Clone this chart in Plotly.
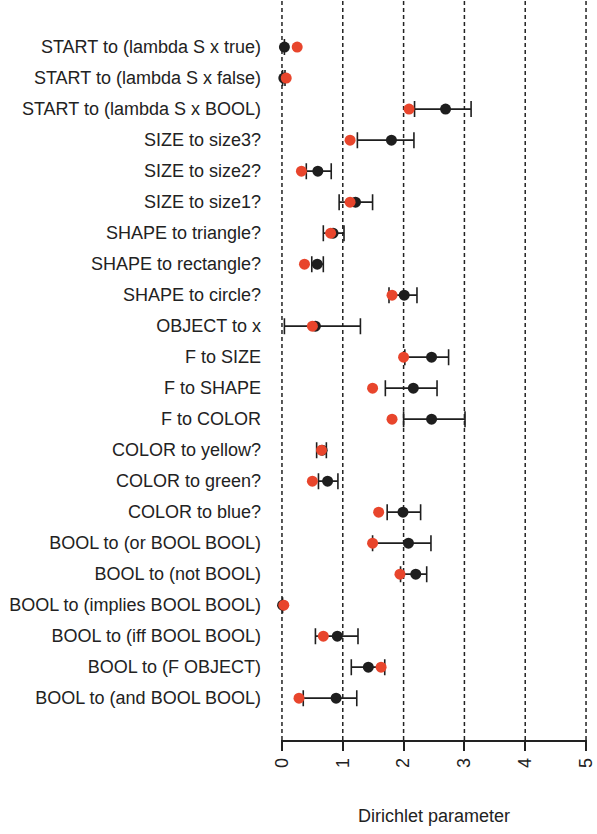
import plotly.graph_objects as go

labels = [
    "START to (lambda S x true)",
    "START to (lambda S x false)",
    "START to (lambda S x BOOL)",
    "SIZE to size3?",
    "SIZE to size2?",
    "SIZE to size1?",
    "SHAPE to triangle?",
    "SHAPE to rectangle?",
    "SHAPE to circle?",
    "OBJECT to x",
    "F to SIZE",
    "F to SHAPE",
    "F to COLOR",
    "COLOR to yellow?",
    "COLOR to green?",
    "COLOR to blue?",
    "BOOL to (or BOOL BOOL)",
    "BOOL to (not BOOL)",
    "BOOL to (implies BOOL BOOL)",
    "BOOL to (iff BOOL BOOL)",
    "BOOL to (F OBJECT)",
    "BOOL to (and BOOL BOOL)",
]
black_mean = [0.04, 0.03, 2.69, 1.80, 0.59, 1.21, 0.84, 0.58, 2.01, 0.55, 2.46, 2.16, 2.46, 0.66, 0.75, 1.99, 2.08, 2.20, 0.01, 0.91, 1.42, 0.89]
black_lo   = [0.04, 0.01, 2.18, 1.24, 0.40, 0.94, 0.68, 0.49, 1.76, 0.04, 2.02, 1.70, 2.00, 0.57, 0.60, 1.73, 1.49, 1.95, 0.01, 0.55, 1.14, 0.35]
black_hi   = [0.04, 0.05, 3.11, 2.17, 0.81, 1.49, 1.02, 0.68, 2.22, 1.29, 2.74, 2.55, 3.01, 0.73, 0.92, 2.28, 2.45, 2.38, 0.01, 1.25, 1.69, 1.23]
red_vals   = [0.25, 0.07, 2.09, 1.12, 0.32, 1.12, 0.80, 0.37, 1.81, 0.50, 2.00, 1.49, 1.81, 0.65, 0.50, 1.59, 1.49, 1.94, 0.03, 0.68, 1.63, 0.28]
x_ticks = [0, 1, 2, 3, 4, 5]

ypos = list(range(len(labels)))
err_plus = [h - m for h, m in zip(black_hi, black_mean)]
err_minus = [m - l for m, l in zip(black_mean, black_lo)]

fig = go.Figure()
fig.add_trace(go.Scatter(
    x=black_mean, y=ypos, mode="markers",
    marker=dict(color="#1e1e1e", size=11),
    error_x=dict(type="data", symmetric=False, array=err_plus, arrayminus=err_minus,
                 color="#1e1e1e", thickness=1.6, width=8),
    cliponaxis=False, showlegend=False,
))
fig.add_trace(go.Scatter(
    x=red_vals, y=ypos, mode="markers",
    marker=dict(color="#e8452c", size=11),
    cliponaxis=False, showlegend=False,
))

# dashed reference lines at each tick (including the range ends)
for t in x_ticks:
    fig.add_shape(type="line", xref="x", yref="paper", x0=t, x1=t, y0=0, y1=1,
                  line=dict(color="#222", width=1.5, dash="4px,3px"), layer="below")

fig.update_layout(
    width=597, height=834,
    margin=dict(l=281, r=10, t=0, b=94),
    plot_bgcolor="white", paper_bgcolor="white",
    font=dict(family="Liberation Sans, Arial, sans-serif", size=18, color="#222"),
)
fig.update_xaxes(
    range=[-0.016, 5.016], tickvals=x_ticks, ticktext=[str(t) for t in x_ticks],
    tickangle=-90, ticks="outside", ticklen=9, tickwidth=1.5, tickcolor="#222",
    showline=True, linecolor="#222", linewidth=1.5,
    showgrid=False, zeroline=False,
    title=dict(text="Dirichlet parameter", standoff=42, font=dict(size=18)),
    tickfont=dict(size=18),
)
fig.update_yaxes(
    range=[22.35, -1.52], tickvals=ypos, ticktext=labels,
    showgrid=False, zeroline=False, showline=False, ticks="",
    ticklabelstandoff=19, tickfont=dict(size=18),
)
fig.write_html("out.html")
